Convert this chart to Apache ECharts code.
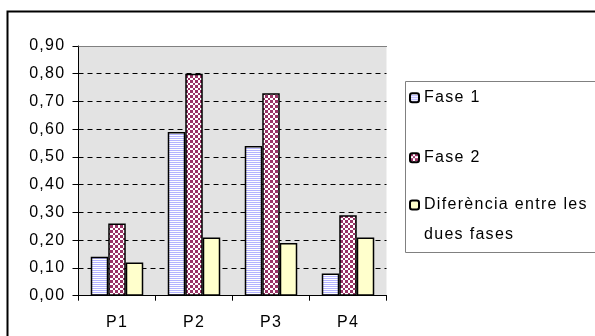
<!DOCTYPE html>
<html>
<head>
<meta charset="utf-8">
<script src="https://cdn.jsdelivr.net/npm/echarts@6/dist/echarts.min.js"></script>
<style>
  html, body { margin: 0; padding: 0; background: #fff; }
  #chart { width: 595px; height: 336px; }
</style>
</head>
<body>
<div id="chart"></div>
<script>
// Values per session (P1..P4) for each phase and the gap between them
const categories = ['P1', 'P2', 'P3', 'P4'];
const fase1 = [0.14, 0.59, 0.54, 0.08];
const fase2 = [0.26, 0.80, 0.73, 0.29];
const diferencia = [0.12, 0.21, 0.19, 0.21];
const seriesNames = ['Fase 1', 'Fase 2', 'Diferència entre les dues fases'];
const yMin = 0, yMax = 0.9, yStep = 0.1;

const FONT = 'Liberation Sans, Arial, sans-serif';

// Slightly looser tracking for all chart text (applied to both drawing and measuring)
(function () {
  const proto = CanvasRenderingContext2D.prototype;
  if (!('letterSpacing' in proto)) return;
  const fill = proto.fillText, measure = proto.measureText;
  proto.fillText = function () { this.letterSpacing = '1.3px'; return fill.apply(this, arguments); };
  proto.measureText = function () { this.letterSpacing = '1.3px'; return measure.apply(this, arguments); };
})();

// Horizontal light-blue stripes
function stripePattern() {
  const c = document.createElement('canvas');
  c.width = 4; c.height = 2;
  const g = c.getContext('2d');
  g.fillStyle = '#ffffff'; g.fillRect(0, 0, 4, 2);
  g.fillStyle = '#b4b4ff'; g.fillRect(0, 0, 4, 1);
  return c;
}
// Small maroon / white checkerboard
function checkerPattern() {
  const c = document.createElement('canvas');
  c.width = 5; c.height = 5;
  const g = c.getContext('2d');
  g.fillStyle = '#ffffff'; g.fillRect(0, 0, 5, 5);
  g.fillStyle = '#993366';
  g.fillRect(0, 0, 3, 3);
  g.fillRect(3, 3, 2, 2);
  return c;
}

const chart = echarts.init(document.getElementById('chart'), null, { renderer: 'canvas' });

const barStyle = (color) => ({ color: color, borderColor: '#000', borderWidth: 1.5 });
const legendText = { fontFamily: FONT, fontSize: 16, color: '#000' };

chart.setOption({
  backgroundColor: '#ffffff',
  animation: false,
  textStyle: { fontFamily: FONT },
  graphic: [
    { type: 'rect', z: 0, silent: true,
      shape: { x: 7.5, y: 11.5, width: 640, height: 360 },
      style: { fill: 'none', stroke: '#000', lineWidth: 2 } },
    { type: 'rect', z: 0, silent: true,
      shape: { x: 405.5, y: 81.5, width: 240, height: 171 },
      style: { fill: '#ffffff', stroke: '#808080', lineWidth: 1 } }
  ],
  grid: {
    left: 78.5, top: 46, right: 208.5, bottom: 40.3,
    show: true, backgroundColor: '#e3e3e3', borderWidth: 0
  },
  legend: [
    { data: [seriesNames[0]], orient: 'vertical', left: 409, top: 89, padding: 0,
      itemWidth: 9, itemHeight: 9, textStyle: legendText },
    { data: [seriesNames[1]], orient: 'vertical', left: 409, top: 149, padding: 0,
      itemWidth: 9, itemHeight: 9, textStyle: legendText },
    { data: [seriesNames[2]], orient: 'vertical', left: 409, top: 160, padding: 0,
      itemWidth: 9, itemHeight: 9,
      // leading blank line keeps the first text line level with the swatch
      formatter: () => '\nDiferència entre les\ndues fases',
      textStyle: Object.assign({}, legendText, { lineHeight: 30 }) }
  ],
  xAxis: [
    {
      type: 'category', data: categories, position: 'bottom',
      axisLine: { lineStyle: { color: '#000', width: 1 } },
      axisTick: { show: true, length: 5, lineStyle: { color: '#000' } },
      axisLabel: { color: '#000', fontSize: 16, fontFamily: FONT, margin: 18 }
    },
    {
      type: 'category', data: categories, position: 'top',
      axisLine: { lineStyle: { color: '#808080', width: 1 } },
      axisTick: { show: false }, axisLabel: { show: false }
    }
  ],
  yAxis: {
    type: 'value', min: yMin, max: yMax, interval: yStep,
    axisLine: { show: true, lineStyle: { color: '#000', width: 1 } },
    axisTick: { show: true, length: 6, lineStyle: { color: '#000' } },
    axisLabel: {
      color: '#000', fontSize: 16, fontFamily: FONT, margin: 13,
      formatter: (v) => v.toFixed(2).replace('.', ',')
    },
    splitLine: { show: true, lineStyle: { color: '#000', width: 1, type: [5, 4] } }
  },
  series: [
    { name: seriesNames[0], type: 'bar', data: fase1, barWidth: 17.5, barGap: '0%',
      itemStyle: barStyle({ image: stripePattern(), repeat: 'repeat' }) },
    { name: seriesNames[1], type: 'bar', data: fase2, barWidth: 17.5, barGap: '0%',
      itemStyle: barStyle({ image: checkerPattern(), repeat: 'repeat' }) },
    { name: seriesNames[2], type: 'bar', data: diferencia, barWidth: 17.5, barGap: '0%',
      itemStyle: barStyle('#ffffcc') }
  ]
});
</script>
</body>
</html>
